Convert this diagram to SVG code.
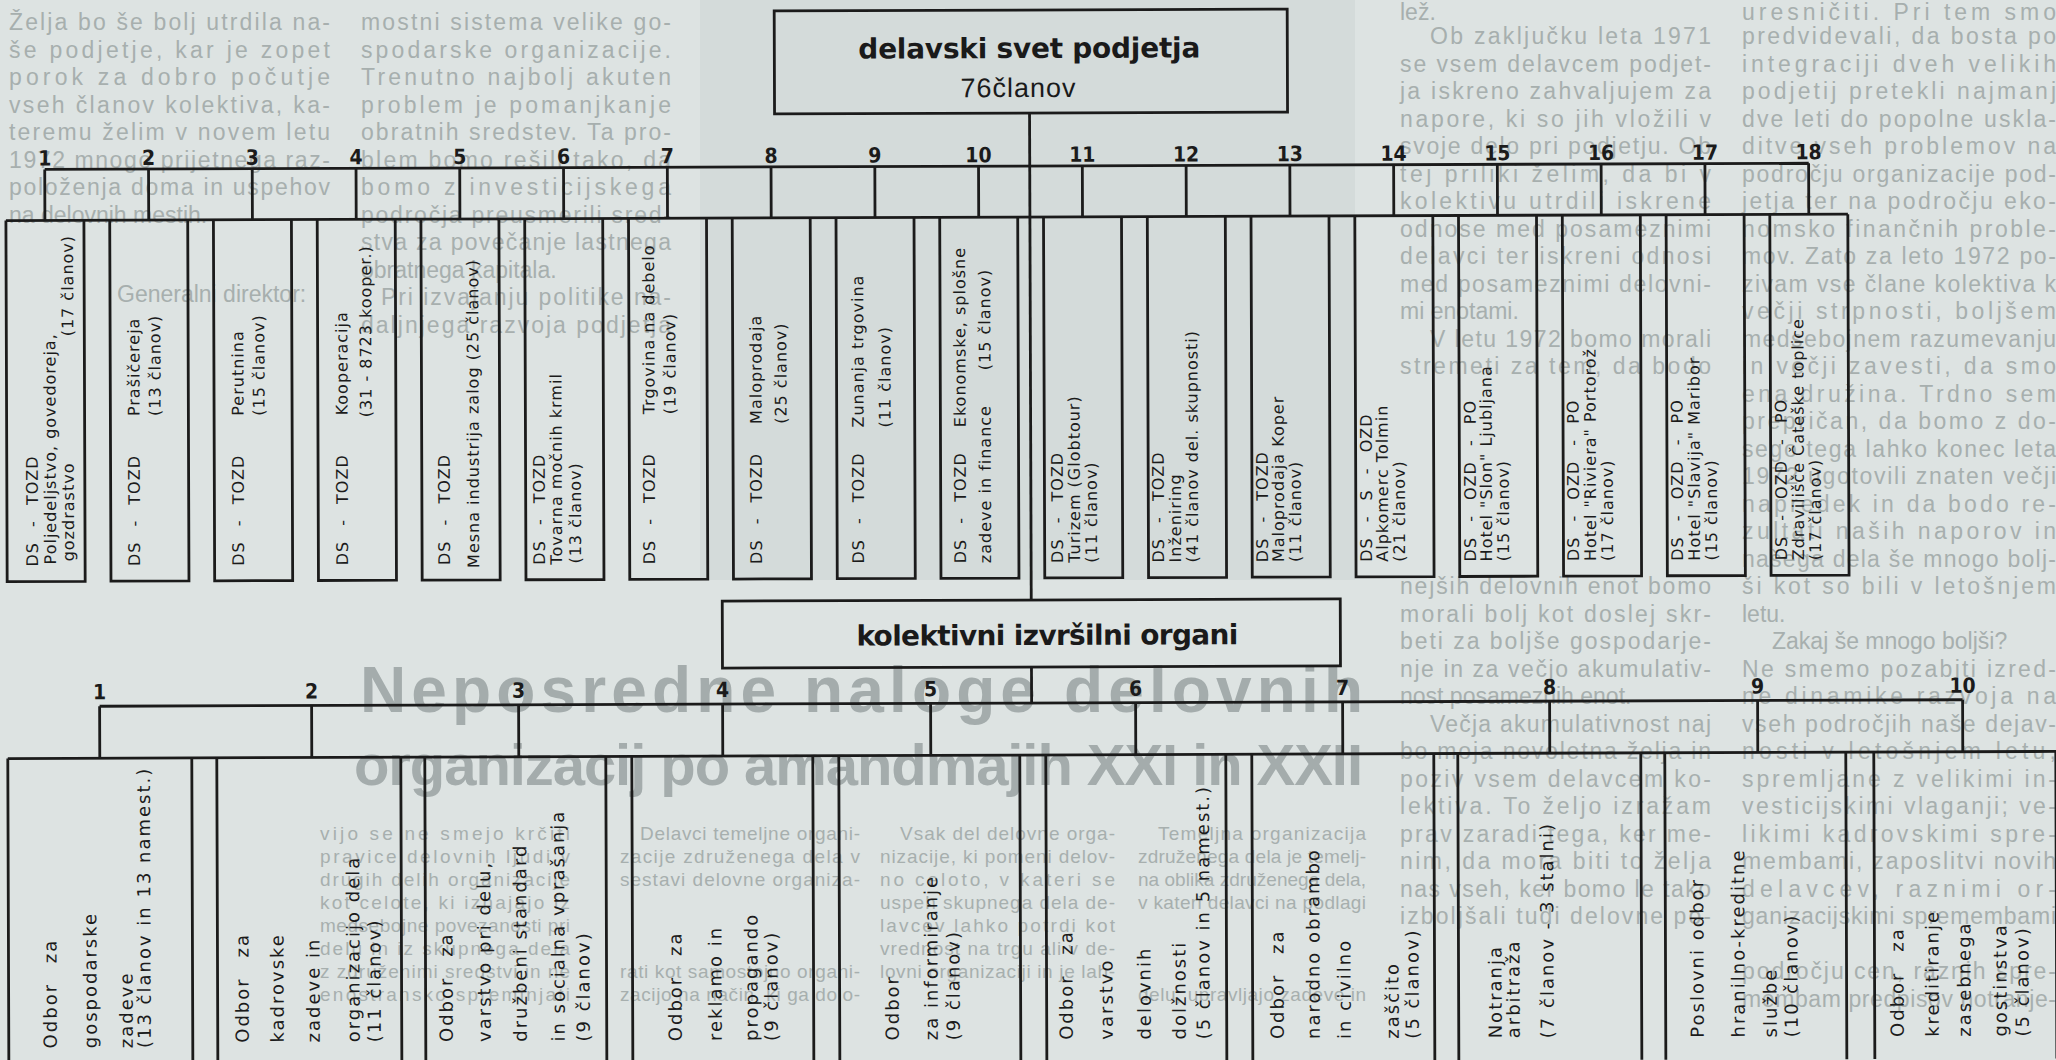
<svg xmlns="http://www.w3.org/2000/svg" width="2056" height="1060" viewBox="0 0 2056 1060">
<style>
.bg{font-family:"Liberation Sans",Arial,sans-serif;font-size:23px;fill:#a7afae}
.bg2{font-family:"Liberation Sans",Arial,sans-serif;font-size:19px;fill:#a7afae}
.head{font-family:"Liberation Sans",Arial,sans-serif;font-weight:bold;fill:#a4acac}
.ln{stroke:#1b1b1b;stroke-width:2.8;fill:none}
.bx{stroke:#1b1b1b;stroke-width:2.8;fill:none}
.num{font-family:"Liberation Sans Narrow","DejaVu Sans Condensed","Liberation Sans",sans-serif;font-weight:bold;font-size:21px;fill:#1b1b1b;text-anchor:middle}
.t{font-family:"DejaVu Sans","Liberation Sans",sans-serif;font-size:16px;letter-spacing:1px;fill:#1b1b1b}
.ds{word-spacing:9px}
.b{font-family:"DejaVu Sans","Liberation Sans",sans-serif;font-size:18px;letter-spacing:2px;fill:#1b1b1b}
.od{word-spacing:12px}
.ttl{font-family:"DejaVu Sans","Liberation Sans",sans-serif;font-weight:bold;font-size:28px;fill:#1a1a1a}
.sub{font-family:"Liberation Sans",Arial,sans-serif;font-size:27px;fill:#1a1a1a}
</style>
<rect width="2056" height="1060" fill="#dde3e2"/>
<rect x="700" y="0" width="655" height="580" fill="#d4dbda"/>

<g id="background-text">
<text class="head" x="360" y="712" font-size="64" textLength="1003" lengthAdjust="spacing">Neposredne naloge delovnih</text>
<text class="head" x="354" y="785" font-size="58" textLength="1009" lengthAdjust="spacing">organizacij po amandmajih XXI in XXII</text>

<text class="bg" x="9" y="30" textLength="321" lengthAdjust="spacing">Želja bo še bolj utrdila na-</text>
<text class="bg" x="9" y="57.5" textLength="321" lengthAdjust="spacing">še podjetje, kar je zopet</text>
<text class="bg" x="9" y="85" textLength="321" lengthAdjust="spacing">porok za dobro počutje</text>
<text class="bg" x="9" y="112.5" textLength="321" lengthAdjust="spacing">vseh članov kolektiva, ka-</text>
<text class="bg" x="9" y="140" textLength="321" lengthAdjust="spacing">teremu želim v novem letu</text>
<text class="bg" x="9" y="167.5" textLength="321" lengthAdjust="spacing">1972 mnogo prijetnega raz-</text>
<text class="bg" x="9" y="195" textLength="321" lengthAdjust="spacing">položenja doma in uspehov</text>
<text class="bg" x="9" y="222.5">na delovnih mestih.</text>
<text class="bg" x="117" y="302">Generalni direktor:</text>

<text class="bg" x="361" y="30" textLength="310" lengthAdjust="spacing">mostni sistema velike go-</text>
<text class="bg" x="361" y="57.5" textLength="310" lengthAdjust="spacing">spodarske organizacije.</text>
<text class="bg" x="361" y="85" textLength="310" lengthAdjust="spacing">Trenutno najbolj akuten</text>
<text class="bg" x="361" y="112.5" textLength="310" lengthAdjust="spacing">problem je pomanjkanje</text>
<text class="bg" x="361" y="140" textLength="310" lengthAdjust="spacing">obratnih sredstev. Ta pro-</text>
<text class="bg" x="361" y="167.5" textLength="310" lengthAdjust="spacing">blem bomo rešili tako, da</text>
<text class="bg" x="361" y="195" textLength="310" lengthAdjust="spacing">bomo z investicijskega</text>
<text class="bg" x="361" y="222.5" textLength="310" lengthAdjust="spacing">področja preusmerili sred-</text>
<text class="bg" x="361" y="250" textLength="310" lengthAdjust="spacing">stva za povečanje lastnega</text>
<text class="bg" x="361" y="277.5">obratnega kapitala.</text>
<text class="bg" x="381" y="305" textLength="290" lengthAdjust="spacing">Pri izvajanju politike na-</text>
<text class="bg" x="361" y="332.5" textLength="310" lengthAdjust="spacing">daljnjega razvoja podjetja</text>

<text class="bg" x="1400" y="20">lež.</text>
<text class="bg" x="1430" y="44" textLength="281" lengthAdjust="spacing">Ob zaključku leta 1971</text>
<text class="bg" x="1400" y="71.5" textLength="311" lengthAdjust="spacing">se vsem delavcem podjet-</text>
<text class="bg" x="1400" y="99" textLength="311" lengthAdjust="spacing">ja iskreno zahvaljujem za</text>
<text class="bg" x="1400" y="126.5" textLength="311" lengthAdjust="spacing">napore, ki so jih vložili v</text>
<text class="bg" x="1400" y="154" textLength="311" lengthAdjust="spacing">svoje delo pri podjetju. Ob</text>
<text class="bg" x="1400" y="181.5" textLength="311" lengthAdjust="spacing">tej priliki želim, da bi v</text>
<text class="bg" x="1400" y="209" textLength="311" lengthAdjust="spacing">kolektivu utrdili iskrene</text>
<text class="bg" x="1400" y="236.5" textLength="311" lengthAdjust="spacing">odnose med posameznimi</text>
<text class="bg" x="1400" y="264" textLength="311" lengthAdjust="spacing">delavci ter iskreni odnosi</text>
<text class="bg" x="1400" y="291.5" textLength="311" lengthAdjust="spacing">med posameznimi delovni-</text>
<text class="bg" x="1400" y="319">mi enotami.</text>
<text class="bg" x="1430" y="346.5" textLength="281" lengthAdjust="spacing">V letu 1972 bomo morali</text>
<text class="bg" x="1400" y="374" textLength="311" lengthAdjust="spacing">stremeti za tem, da bodo</text>
<text class="bg" x="1400" y="594" textLength="311" lengthAdjust="spacing">nejših delovnih enot bomo</text>
<text class="bg" x="1400" y="621.5" textLength="311" lengthAdjust="spacing">morali bolj kot doslej skr-</text>
<text class="bg" x="1400" y="649" textLength="311" lengthAdjust="spacing">beti za boljše gospodarje-</text>
<text class="bg" x="1400" y="676.5" textLength="311" lengthAdjust="spacing">nje in za večjo akumulativ-</text>
<text class="bg" x="1400" y="704">nost posameznih enot.</text>
<text class="bg" x="1430" y="731.5" textLength="281" lengthAdjust="spacing">Večja akumulativnost naj</text>
<text class="bg" x="1400" y="759" textLength="311" lengthAdjust="spacing">bo moja novoletna želja in</text>
<text class="bg" x="1400" y="786.5" textLength="311" lengthAdjust="spacing">poziv vsem delavcem ko-</text>
<text class="bg" x="1400" y="814" textLength="311" lengthAdjust="spacing">lektiva. To željo izražam</text>
<text class="bg" x="1400" y="841.5" textLength="311" lengthAdjust="spacing">prav zaradi tega, ker me-</text>
<text class="bg" x="1400" y="869" textLength="311" lengthAdjust="spacing">nim, da mora biti to želja</text>
<text class="bg" x="1400" y="896.5" textLength="311" lengthAdjust="spacing">nas vseh, ker bomo le tako</text>
<text class="bg" x="1400" y="924" textLength="311" lengthAdjust="spacing">izboljšali tudi delovne po-</text>

<text class="bg" x="1742" y="20" textLength="314" lengthAdjust="spacing">uresničiti. Pri tem smo</text>
<text class="bg" x="1742" y="44" textLength="314" lengthAdjust="spacing">predvidevali, da bosta po</text>
<text class="bg" x="1742" y="71.5" textLength="314" lengthAdjust="spacing">integraciji dveh velikih</text>
<text class="bg" x="1742" y="99" textLength="314" lengthAdjust="spacing">podjetij pretekli najmanj</text>
<text class="bg" x="1742" y="126.5" textLength="314" lengthAdjust="spacing">dve leti do popolne uskla-</text>
<text class="bg" x="1742" y="154" textLength="314" lengthAdjust="spacing">ditve vseh problemov na</text>
<text class="bg" x="1742" y="181.5" textLength="314" lengthAdjust="spacing">področju organizacije pod-</text>
<text class="bg" x="1742" y="209" textLength="314" lengthAdjust="spacing">jetja ter na področju eko-</text>
<text class="bg" x="1742" y="236.5" textLength="314" lengthAdjust="spacing">nomsko finančnih proble-</text>
<text class="bg" x="1742" y="264" textLength="314" lengthAdjust="spacing">mov. Zato za leto 1972 po-</text>
<text class="bg" x="1742" y="291.5" textLength="314" lengthAdjust="spacing">zivam vse člane kolektiva k</text>
<text class="bg" x="1742" y="319" textLength="314" lengthAdjust="spacing">večji strpnosti, boljšem</text>
<text class="bg" x="1742" y="346.5" textLength="314" lengthAdjust="spacing">medsebojnem razumevanju</text>
<text class="bg" x="1742" y="374" textLength="314" lengthAdjust="spacing">in večji zavesti, da smo</text>
<text class="bg" x="1742" y="401.5" textLength="314" lengthAdjust="spacing">ena družina. Trdno sem</text>
<text class="bg" x="1742" y="429" textLength="314" lengthAdjust="spacing">prepričan, da bomo z do-</text>
<text class="bg" x="1742" y="456.5" textLength="314" lengthAdjust="spacing">sego tega lahko konec leta</text>
<text class="bg" x="1742" y="484" textLength="314" lengthAdjust="spacing">1972 ugotovili znaten večji</text>
<text class="bg" x="1742" y="511.5" textLength="314" lengthAdjust="spacing">napredek in da bodo re-</text>
<text class="bg" x="1742" y="539" textLength="314" lengthAdjust="spacing">zultati naših naporov in</text>
<text class="bg" x="1742" y="566.5" textLength="314" lengthAdjust="spacing">našega dela še mnogo bolj-</text>
<text class="bg" x="1742" y="594" textLength="314" lengthAdjust="spacing">ši kot so bili v letošnjem</text>
<text class="bg" x="1742" y="621.5">letu.</text>
<text class="bg" x="1772" y="649">Zakaj še mnogo boljši?</text>
<text class="bg" x="1742" y="676.5" textLength="314" lengthAdjust="spacing">Ne smemo pozabiti izred-</text>
<text class="bg" x="1742" y="704" textLength="314" lengthAdjust="spacing">ne dinamike razvoja na</text>
<text class="bg" x="1742" y="731.5" textLength="314" lengthAdjust="spacing">vseh področjih naše dejav-</text>
<text class="bg" x="1742" y="759" textLength="314" lengthAdjust="spacing">nosti v letošnjem letu,</text>
<text class="bg" x="1742" y="786.5" textLength="314" lengthAdjust="spacing">spremljane z velikimi in-</text>
<text class="bg" x="1742" y="814" textLength="314" lengthAdjust="spacing">vesticijskimi vlaganji; ve-</text>
<text class="bg" x="1742" y="841.5" textLength="314" lengthAdjust="spacing">likimi kadrovskimi spre-</text>
<text class="bg" x="1742" y="869" textLength="314" lengthAdjust="spacing">membami, zaposlitvi novih</text>
<text class="bg" x="1742" y="896.5" textLength="314" lengthAdjust="spacing">delavcev, raznimi or-</text>
<text class="bg" x="1742" y="924" textLength="314" lengthAdjust="spacing">ganizacijskimi spremembami</text>
<text class="bg" x="1742" y="979" textLength="314" lengthAdjust="spacing">področju cen, raznih spre-</text>
<text class="bg" x="1742" y="1006.5" textLength="314" lengthAdjust="spacing">membam predpisov notranje-</text>

<text class="bg2" x="320" y="840" textLength="250" lengthAdjust="spacing">vijo se ne smejo krčiti</text>
<text class="bg2" x="320" y="863" textLength="250" lengthAdjust="spacing">pravice delovnih ljudi v</text>
<text class="bg2" x="320" y="886" textLength="250" lengthAdjust="spacing">drugih delih organizacije</text>
<text class="bg2" x="320" y="909" textLength="250" lengthAdjust="spacing">kot celote, ki izhajajo iz</text>
<text class="bg2" x="320" y="932" textLength="250" lengthAdjust="spacing">medsebojne povezanosti pri</text>
<text class="bg2" x="320" y="955" textLength="250" lengthAdjust="spacing">delu in iz skupnega dela</text>
<text class="bg2" x="320" y="978" textLength="250" lengthAdjust="spacing">z združenimi sredstvi in ne</text>
<text class="bg2" x="320" y="1001" textLength="250" lengthAdjust="spacing">enostransko spreminjati</text>

<text class="bg2" x="640" y="840" textLength="220" lengthAdjust="spacing">Delavci temeljne organi-</text>
<text class="bg2" x="620" y="863" textLength="240" lengthAdjust="spacing">zacije združenega dela v</text>
<text class="bg2" x="620" y="886" textLength="240" lengthAdjust="spacing">sestavi delovne organiza-</text>
<text class="bg2" x="620" y="978" textLength="240" lengthAdjust="spacing">rati kot samostojno organi-</text>
<text class="bg2" x="620" y="1001" textLength="240" lengthAdjust="spacing">zacijo na način, ki ga dolo-</text>

<text class="bg2" x="900" y="840" textLength="215" lengthAdjust="spacing">Vsak del delovne orga-</text>
<text class="bg2" x="880" y="863" textLength="235" lengthAdjust="spacing">nizacije, ki pomeni delov-</text>
<text class="bg2" x="880" y="886" textLength="235" lengthAdjust="spacing">no celoto, v kateri se</text>
<text class="bg2" x="880" y="909" textLength="235" lengthAdjust="spacing">uspeh skupnega dela de-</text>
<text class="bg2" x="880" y="932" textLength="235" lengthAdjust="spacing">lavcev lahko potrdi kot</text>
<text class="bg2" x="880" y="955" textLength="235" lengthAdjust="spacing">vrednost na trgu ali v de-</text>
<text class="bg2" x="880" y="978" textLength="235" lengthAdjust="spacing">lovni organizaciji in je lah-</text>

<text class="bg2" x="1158" y="840" textLength="208" lengthAdjust="spacing">Temeljna organizacija</text>
<text class="bg2" x="1138" y="863" textLength="228" lengthAdjust="spacing">združenega dela je temelj-</text>
<text class="bg2" x="1138" y="886" textLength="228" lengthAdjust="spacing">na oblika združenega dela,</text>
<text class="bg2" x="1138" y="909" textLength="228" lengthAdjust="spacing">v kateri delavci na podlagi</text>
<text class="bg2" x="1138" y="1001" textLength="228" lengthAdjust="spacing">delu, upravljajo zadeve in</text>
</g>

<g id="chart" transform="rotate(-0.2 1028 530)">
<g id="connectors" class="ln">
<path d="M1031 113V600"/>
<path d="M46 166H1810"/>
<path d="M7 217H1849"/>
<path d="M46 166V217M149.8 166V217M253.5 166V217M357.3 166V217M461 166V217M564.8 166V217M668.6 166V217M772.3 166V217M876.1 166V217M979.8 166V217M1083.6 166V217M1187.4 166V217M1291.1 166V217M1394.9 166V217M1498.6 166V217M1602.4 166V217M1706.2 166V217M1809.9 166V217"/>
<path d="M1031 667V703"/>
<path d="M99 703H1962"/>
<path d="M7 755H2056"/>
<path d="M99 703V755M311 703V755M518 703V755M722 703V755M930 703V755M1135 703V755M1342 703V755M1549 703V755M1757 703V755M1962 703V755"/>
</g>

<g id="node-delavski-svet">
<rect class="bx" x="776" y="10" width="513" height="103" stroke-width="3.2"/>
<text class="ttl" x="860" y="58" textLength="342" lengthAdjust="spacing">delavski svet podjetja</text>
<text class="sub" x="962" y="97" textLength="115" lengthAdjust="spacing">76članov</text>
</g>

<g id="node-ds-1"><text class="num" x="46" y="162">1</text><path class="bx" d="M7 217V578H85V217"/>
<text class="t ds" transform="translate(38 563) rotate(-90)">DS - TOZD</text>
<text class="t" transform="translate(56 561) rotate(-90)">Poljedeljstvo, govedoreja,</text>
<text class="t" transform="translate(74 558) rotate(-90)">gozdrastvo</text>
<text class="t" transform="translate(74 333) rotate(-90)">(17 članov)</text></g>

<g id="node-ds-2"><text class="num" x="149.8" y="162">2</text><path class="bx" d="M110.8 217V578H188.8V217"/>
<text class="t ds" transform="translate(140 563) rotate(-90)">DS - TOZD</text>
<text class="t" transform="translate(140 413) rotate(-90)">Prašičereja</text>
<text class="t" transform="translate(161 413) rotate(-90)">(13 članov)</text></g>

<g id="node-ds-3"><text class="num" x="253.5" y="162">3</text><path class="bx" d="M214.5 217V578H292.5V217"/>
<text class="t ds" transform="translate(244 563) rotate(-90)">DS - TOZD</text>
<text class="t" transform="translate(244 413) rotate(-90)">Perutnina</text>
<text class="t" transform="translate(265 413) rotate(-90)">(15 članov)</text></g>

<g id="node-ds-4"><text class="num" x="357.3" y="162">4</text><path class="bx" d="M318.3 217V578H396.3V217"/>
<text class="t ds" transform="translate(348 563) rotate(-90)">DS - TOZD</text>
<text class="t" transform="translate(348 413) rotate(-90)">Kooperacija</text>
<text class="t" transform="translate(372 415) rotate(-90)">(31 - 8723 kooper.)</text></g>

<g id="node-ds-5"><text class="num" x="461" y="162">5</text><path class="bx" d="M422 217V578H500V217"/>
<text class="t ds" transform="translate(450 563) rotate(-90)">DS - TOZD</text>
<text class="t" transform="translate(479 566) rotate(-90)">Mesna industrija zalog (25 članov)</text></g>

<g id="node-ds-6"><text class="num" x="564.8" y="162">6</text><path class="bx" d="M525.8 217V578H603.8V217"/>
<text class="t ds" transform="translate(545 563) rotate(-90)">DS - TOZD</text>
<text class="t" transform="translate(562 563) rotate(-90)">Tovarna močnih krmil</text>
<text class="t" transform="translate(581 562) rotate(-90)">(13 članov)</text></g>

<g id="node-ds-7"><text class="num" x="668.6" y="162">7</text><path class="bx" d="M629.6 217V578H707.6V217"/>
<text class="t ds" transform="translate(655 563) rotate(-90)">DS - TOZD</text>
<text class="t" transform="translate(655 413) rotate(-90)">Trgovina na debelo</text>
<text class="t" transform="translate(676 413) rotate(-90)">(19 članov)</text></g>

<g id="node-ds-8"><text class="num" x="772.3" y="162">8</text><path class="bx" d="M733.3 217V578H811.3V217"/>
<text class="t ds" transform="translate(762 563) rotate(-90)">DS - TOZD</text>
<text class="t" transform="translate(762 423) rotate(-90)">Maloprodaja</text>
<text class="t" transform="translate(787 423) rotate(-90)">(25 članov)</text></g>

<g id="node-ds-9"><text class="num" x="876.1" y="162">9</text><path class="bx" d="M837.1 217V578H915.1V217"/>
<text class="t ds" transform="translate(864 563) rotate(-90)">DS - TOZD</text>
<text class="t" transform="translate(864 427) rotate(-90)">Zunanja trgovina</text>
<text class="t" transform="translate(891 427) rotate(-90)">(11 članov)</text></g>

<g id="node-ds-10"><text class="num" x="979.8" y="162">10</text><path class="bx" d="M940.8 217V578H1018.8V217"/>
<text class="t ds" transform="translate(966 563) rotate(-90)">DS - TOZD</text>
<text class="t" transform="translate(966 427) rotate(-90)">Ekonomske, splošne</text>
<text class="t" transform="translate(991 563) rotate(-90)">zadeve in finance</text>
<text class="t" transform="translate(991 370) rotate(-90)">(15 članov)</text></g>

<g id="node-ds-11"><text class="num" x="1083.6" y="162">11</text><path class="bx" d="M1044.6 217V578H1122.6V217"/>
<text class="t ds" transform="translate(1063 563) rotate(-90)">DS - TOZD</text>
<text class="t" transform="translate(1080 563) rotate(-90)">Turizem (Globtour)</text>
<text class="t" transform="translate(1097 563) rotate(-90)">(11 članov)</text></g>

<g id="node-ds-12"><text class="num" x="1187.4" y="162">12</text><path class="bx" d="M1148.4 217V578H1226.4V217"/>
<text class="t ds" transform="translate(1164 563) rotate(-90)">DS - TOZD</text>
<text class="t" transform="translate(1181 563) rotate(-90)">Inženiring</text>
<text class="t" transform="translate(1198 563) rotate(-90)">(41 članov del. skupnosti)</text></g>

<g id="node-ds-13"><text class="num" x="1291.1" y="162">13</text><path class="bx" d="M1252.1 217V578H1330.1V217"/>
<text class="t ds" transform="translate(1268 563) rotate(-90)">DS - TOZD</text>
<text class="t" transform="translate(1284 563) rotate(-90)">Maloprodaja Koper</text>
<text class="t" transform="translate(1301 563) rotate(-90)">(11 članov)</text></g>

<g id="node-ds-14"><text class="num" x="1394.9" y="162">14</text><path class="bx" d="M1355.9 217V578H1433.9V217"/>
<text class="t ds" transform="translate(1372 563) rotate(-90)">DS - S - OZD</text>
<text class="t" transform="translate(1388 563) rotate(-90)">Alpkomerc Tolmin</text>
<text class="t" transform="translate(1405 563) rotate(-90)">(21 članov)</text></g>

<g id="node-ds-15"><text class="num" x="1498.6" y="162">15</text><path class="bx" d="M1459.6 217V578H1537.6V217"/>
<text class="t ds" transform="translate(1476 563) rotate(-90)">DS - OZD - PO</text>
<text class="t" transform="translate(1492 563) rotate(-90)">Hotel "Slon" Ljubljana</text>
<text class="t" transform="translate(1509 563) rotate(-90)">(15 članov)</text></g>

<g id="node-ds-16"><text class="num" x="1602.4" y="162">16</text><path class="bx" d="M1563.4 217V578H1641.4V217"/>
<text class="t ds" transform="translate(1579 563) rotate(-90)">DS - OZD - PO</text>
<text class="t" transform="translate(1596 563) rotate(-90)">Hotel "Riviera" Portorož</text>
<text class="t" transform="translate(1613 563) rotate(-90)">(17 članov)</text></g>

<g id="node-ds-17"><text class="num" x="1706.2" y="162">17</text><path class="bx" d="M1667.2 217V578H1745.2V217"/>
<text class="t ds" transform="translate(1683 563) rotate(-90)">DS - OZD - PO</text>
<text class="t" transform="translate(1700 563) rotate(-90)">Hotel "Slavija" Maribor</text>
<text class="t" transform="translate(1717 563) rotate(-90)">(15 članov)</text></g>

<g id="node-ds-18"><text class="num" x="1809.9" y="162">18</text><path class="bx" d="M1770.9 217V578H1848.9V217"/>
<text class="t ds" transform="translate(1787 563) rotate(-90)">DS - OZD - PO</text>
<text class="t" transform="translate(1804 563) rotate(-90)">Zdravilišče Čateške toplice</text>
<text class="t" transform="translate(1821 563) rotate(-90)">(17 članov)</text></g>

<g id="node-kolektivni">
<rect class="bx" x="722" y="600" width="618" height="67" stroke-width="3.2"/>
<text class="ttl" x="856" y="645" textLength="382" lengthAdjust="spacing">kolektivni izvršilni organi</text>
</g>

<g id="node-odbor-1"><text class="num" x="99" y="696">1</text><path class="bx" d="M7 1062V755M191 755V1062"/>
<text class="b od" transform="translate(55 1045) rotate(-90)">Odbor za</text>
<text class="b" transform="translate(95 1045) rotate(-90)">gospodarske</text>
<text class="b" transform="translate(131 1045) rotate(-90)">zadeve</text>
<text class="b" transform="translate(149 1045) rotate(-90)">(13 članov in 13 namest.)</text></g>

<g id="node-odbor-2"><text class="num" x="311" y="696">2</text><path class="bx" d="M216 1062V755M400 755V1062"/>
<text class="b od" transform="translate(247 1040) rotate(-90)">Odbor za</text>
<text class="b" transform="translate(282 1040) rotate(-90)">kadrovske</text>
<text class="b" transform="translate(318 1040) rotate(-90)">zadeve in</text>
<text class="b" transform="translate(358 1040) rotate(-90)">organizacijo dela</text>
<text class="b" transform="translate(379 1040) rotate(-90)">(11 članov)</text></g>

<g id="node-odbor-3"><text class="num" x="518" y="696">3</text><path class="bx" d="M424 1062V755M605 755V1062"/>
<text class="b od" transform="translate(451 1040) rotate(-90)">Odbor za</text>
<text class="b" transform="translate(489 1040) rotate(-90)">varstvo pri delu,</text>
<text class="b" transform="translate(525 1040) rotate(-90)">družbeni standard</text>
<text class="b" transform="translate(563 1040) rotate(-90)">in socialna vprašanja</text>
<text class="b" transform="translate(588 1040) rotate(-90)">(9 članov)</text></g>

<g id="node-odbor-4"><text class="num" x="722" y="696">4</text><path class="bx" d="M631 1062V755M812 755V1062"/>
<text class="b od" transform="translate(680 1040) rotate(-90)">Odbor za</text>
<text class="b" transform="translate(720 1040) rotate(-90)">reklamo in</text>
<text class="b" transform="translate(756 1040) rotate(-90)">propagando</text>
<text class="b" transform="translate(776 1040) rotate(-90)">(9 članov)</text></g>

<g id="node-odbor-5"><text class="num" x="930" y="696">5</text><path class="bx" d="M838 1062V755M1019 755V1062"/>
<text class="b" transform="translate(897 1040) rotate(-90)">Odbor</text>
<text class="b" transform="translate(936 1040) rotate(-90)">za informiranje</text>
<text class="b" transform="translate(958 1040) rotate(-90)">(9 članov)</text></g>

<g id="node-odbor-6"><text class="num" x="1135" y="696">6</text><path class="bx" d="M1045 1062V755M1225 755V1062"/>
<text class="b od" transform="translate(1071 1040) rotate(-90)">Odbor za</text>
<text class="b" transform="translate(1111 1040) rotate(-90)">varstvo</text>
<text class="b" transform="translate(1149 1040) rotate(-90)">delovnih</text>
<text class="b" transform="translate(1184 1040) rotate(-90)">dolžnosti</text>
<text class="b" transform="translate(1208 1040) rotate(-90)">(5 članov in 5 namest.)</text></g>

<g id="node-odbor-7"><text class="num" x="1342" y="696">7</text><path class="bx" d="M1251 1062V755M1433 755V1062"/>
<text class="b od" transform="translate(1282 1040) rotate(-90)">Odbor za</text>
<text class="b" transform="translate(1318 1040) rotate(-90)">narodno obrambo</text>
<text class="b" transform="translate(1349 1040) rotate(-90)">in civilno</text>
<text class="b" transform="translate(1397 1040) rotate(-90)">zaščito</text>
<text class="b" transform="translate(1417 1040) rotate(-90)">(5 članov)</text></g>

<g id="node-odbor-8"><text class="num" x="1549" y="696">8</text><path class="bx" d="M1457 1062V755M1640 755V1062"/>
<text class="b" transform="translate(1500 1040) rotate(-90)">Notranja</text>
<text class="b" transform="translate(1518 1040) rotate(-90)">arbitraža</text>
<text class="b" transform="translate(1552 1040) rotate(-90)">(7 članov - 3 stalni)</text></g>

<g id="node-odbor-9"><text class="num" x="1757" y="696">9</text><path class="bx" d="M1664 1062V755M1845 755V1062"/>
<text class="b" transform="translate(1702 1040) rotate(-90)">Poslovni odbor</text>
<text class="b" transform="translate(1743 1040) rotate(-90)">hranilno-kreditne</text>
<text class="b" transform="translate(1775 1040) rotate(-90)">službe</text>
<text class="b" transform="translate(1796 1040) rotate(-90)">(10 članov)</text></g>

<g id="node-odbor-10"><text class="num" x="1962" y="696">10</text><path class="bx" d="M1873 1062V755M2055 755V1062"/>
<text class="b od" transform="translate(1902 1040) rotate(-90)">Odbor za</text>
<text class="b" transform="translate(1937 1040) rotate(-90)">kreditiranje</text>
<text class="b" transform="translate(1969 1040) rotate(-90)">zasebnega</text>
<text class="b" transform="translate(2005 1040) rotate(-90)">gostinstva</text>
<text class="b" transform="translate(2027 1040) rotate(-90)">(5 članov)</text></g>
</g>
</svg>
